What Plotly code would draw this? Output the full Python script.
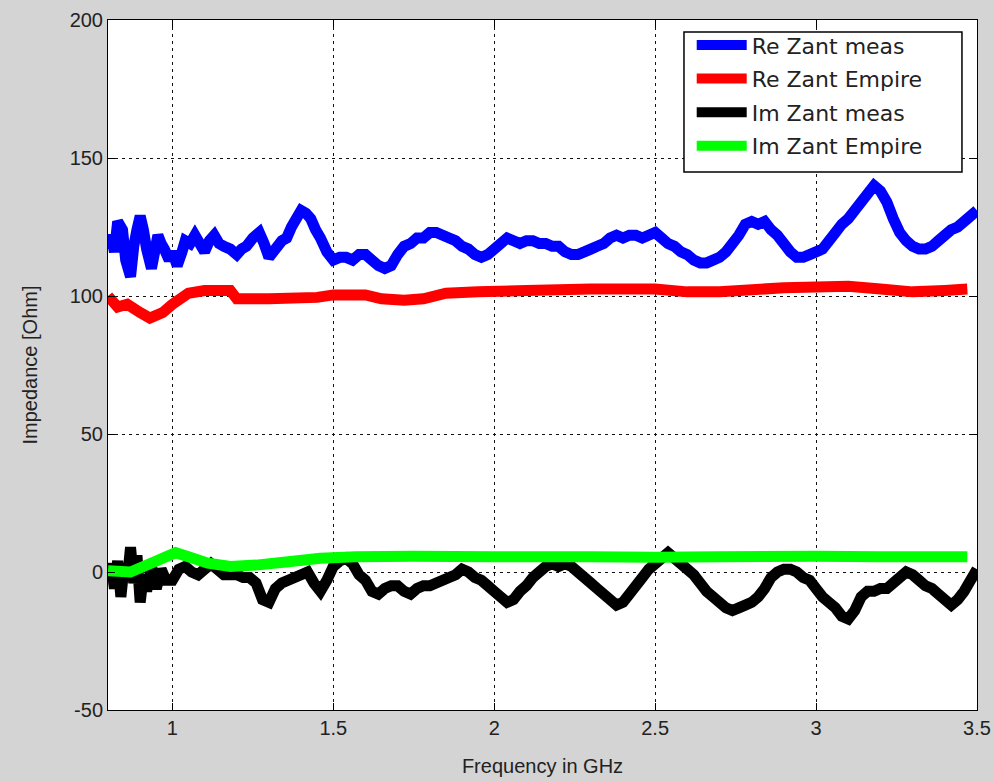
import plotly.graph_objects as go

# ---- data ----
re_meas_f = [0.80, 0.81, 0.82, 0.83, 0.845, 0.855, 0.87, 0.88, 0.89, 0.90, 0.91, 0.92, 0.935, 0.945,
             0.955, 0.965, 0.975, 0.99,
             1.00, 1.015, 1.03, 1.04, 1.055, 1.07, 1.085, 1.10, 1.115, 1.13, 1.145, 1.16, 1.18, 1.20,
             1.215, 1.23, 1.25, 1.27, 1.285, 1.30, 1.32, 1.34, 1.355, 1.37, 1.385, 1.40, 1.415, 1.43,
             1.445, 1.46, 1.48, 1.50, 1.52, 1.54, 1.56, 1.58, 1.60, 1.62, 1.64, 1.66, 1.68, 1.70,
             1.72, 1.74, 1.76, 1.78, 1.80, 1.82, 1.84, 1.86, 1.88, 1.90, 1.92, 1.94, 1.96, 1.98,
             2.00, 2.02, 2.04, 2.06, 2.08, 2.10, 2.12, 2.14, 2.16, 2.18, 2.20, 2.22, 2.24, 2.26,
             2.28, 2.30, 2.32, 2.34, 2.36, 2.38, 2.40, 2.42, 2.44, 2.46, 2.48, 2.50, 2.52, 2.54,
             2.56, 2.58, 2.60, 2.62, 2.64, 2.66, 2.68, 2.70, 2.72, 2.74, 2.76, 2.78, 2.80, 2.82,
             2.84, 2.86, 2.88, 2.90, 2.92, 2.94, 2.96, 2.98, 3.00, 3.02, 3.04, 3.06, 3.08, 3.10,
             3.12, 3.14, 3.16, 3.18, 3.20, 3.22, 3.24, 3.26, 3.28, 3.30, 3.32, 3.34, 3.36, 3.38,
             3.40, 3.42, 3.44, 3.46, 3.48, 3.50]
re_meas_z = [117, 122, 116, 127, 124, 113, 107, 118, 124, 129, 124, 117, 110, 116,
             122, 119, 117, 113,
             116, 111, 116, 120, 119, 122, 119, 116, 120, 122, 119, 118, 117, 115,
             117, 118, 121, 123, 119, 114, 117, 120, 121, 125, 128, 131, 130, 128,
             124, 121, 116, 113, 114, 114, 113, 115, 115, 113, 111, 110, 111, 115,
             118, 119, 121, 121, 123, 123, 122, 121, 120, 118, 117, 115, 114, 115,
             117, 119, 121, 120, 119, 120, 120, 119, 119, 118, 118, 116, 115, 115,
             116, 117, 118, 119, 121, 122, 121, 122, 122, 121, 122, 123, 121, 119,
             118, 116, 115, 113, 112, 112, 113, 114, 116, 119, 122, 126, 127, 126,
             127, 124, 122, 119, 116, 114, 114, 115, 116, 117, 120, 123, 126, 128,
             131, 134, 137, 140, 138, 134, 128, 123, 120, 118, 117, 117, 118, 120,
             122, 124, 125, 127, 129, 131]

re_emp_f = [0.80, 0.83, 0.86, 0.90, 0.93, 0.97, 1.00, 1.05, 1.10, 1.18, 1.20, 1.30, 1.45, 1.50,
            1.60, 1.65, 1.72, 1.78, 1.85, 1.95, 2.10, 2.30, 2.50, 2.60, 2.70, 2.90, 3.10, 3.20,
            3.30, 3.40, 3.47]
re_emp_z = [100, 96, 97, 94, 92, 94, 97, 101, 102, 102, 99, 99, 99.5, 100.4,
            100.4, 99, 98.5, 99, 101, 101.5, 102, 102.5, 102.5, 101.5, 101.5, 103, 103.5, 102.5,
            101.5, 102, 102.5]

im_meas_f = [0.80, 0.81, 0.82, 0.83, 0.84, 0.85, 0.86, 0.87, 0.88, 0.89, 0.90, 0.91, 0.92, 0.935,
             0.95, 0.965, 0.98,
             1.00, 1.02, 1.04, 1.06, 1.08, 1.10, 1.12, 1.14, 1.16, 1.18, 1.20, 1.22, 1.24, 1.26,
             1.28, 1.30, 1.32, 1.34, 1.36, 1.38, 1.40, 1.42, 1.44, 1.46, 1.48, 1.50, 1.52, 1.54,
             1.56, 1.58, 1.60, 1.62, 1.64, 1.66, 1.68, 1.70, 1.72, 1.74, 1.76, 1.78, 1.80, 1.82,
             1.84, 1.86, 1.88, 1.90, 1.92, 1.94, 1.96, 1.98, 2.00, 2.02, 2.04, 2.06, 2.08, 2.10,
             2.12, 2.14, 2.16, 2.18, 2.20, 2.22, 2.24, 2.26, 2.28, 2.30, 2.32, 2.34, 2.36, 2.38,
             2.40, 2.42, 2.44, 2.46, 2.48, 2.50, 2.52, 2.54, 2.56, 2.58, 2.60, 2.62, 2.64, 2.66,
             2.68, 2.70, 2.72, 2.74, 2.76, 2.78, 2.80, 2.82, 2.84, 2.86, 2.88, 2.90, 2.92, 2.94,
             2.96, 2.98, 3.00, 3.02, 3.04, 3.06, 3.08, 3.10, 3.12, 3.14, 3.16, 3.18, 3.20, 3.22,
             3.24, 3.26, 3.28, 3.30, 3.32, 3.34, 3.36, 3.38, 3.40, 3.42, 3.44, 3.46, 3.48, 3.50]
im_meas_z = [-3, 3, -6, 4, -9, 2, -3, 9, -4, 6, -11, -1, -7, 2,
             -6, 1, -3,
             -3, 1, 2, 0, -1, 1, 3, 1, -1, -1, -1, -2, -2, -4,
             -10, -11, -6, -4, -3, -2, -1, 0, -4, -7, -3, 2, 4, 5,
             3, -1, -3, -7, -8, -6, -5, -5, -7, -8, -6, -5, -5, -4,
             -3, -2, -1, 1, 0, -2, -3, -5, -7, -9, -11, -10, -7, -5,
             -2, 0, 2, 3, 2, 3, 2, 0, -2, -4, -6, -8, -10, -12,
             -11, -8, -5, -2, 1, 3, 5, 7, 5, 3, 1, -1, -4, -7,
             -9, -11, -13, -14, -13, -12, -11, -9, -6, -2, 0, 1, 1, 0,
             -2, -3, -6, -9, -11, -13, -16, -17, -14, -9, -7, -7, -6, -6,
             -4, -2, 0, -1, -3, -5, -6, -8, -10, -12, -10, -7, -3, 1]

im_emp_f = [0.80, 0.87, 0.95, 1.01, 1.05, 1.11, 1.18, 1.26, 1.36, 1.46, 1.57, 1.75, 2.00, 2.30,
            2.50, 2.70, 3.00, 3.20, 3.47]
im_emp_z = [0.5, 0, 4, 7, 5.5, 3.2, 2, 2.5, 3.7, 5, 5.5, 5.7, 5.5, 5.5,
            5.3, 5.5, 5.7, 5.5, 5.5]

x_ticks = [1, 1.5, 2, 2.5, 3, 3.5]
y_ticks = [-50, 0, 50, 100, 150, 200]

series = [
    ("Re Zant meas", re_meas_f, re_meas_z, "#0000ff"),
    ("Re Zant Empire", re_emp_f, re_emp_z, "#ff0000"),
    ("Im Zant meas", im_meas_f, im_meas_z, "#000000"),
    ("Im Zant Empire", im_emp_f, im_emp_z, "#00ff00"),
]

fig = go.Figure()
for i, (name, xs, ys, col) in enumerate(series):
    fig.add_trace(go.Scatter(x=xs, y=ys, name=name, mode="lines", legendgroup=f"g{i}",
                             line=dict(color=col, width=11, simplify=False)))

font = "Liberation Sans, Arial, sans-serif"
axis_common = dict(
    showline=True, linecolor="black", linewidth=1, mirror="ticks",
    ticks="inside", ticklen=7, tickcolor="black",
    showgrid=True, gridcolor="#111111", griddash="3px,4px", gridwidth=1,
    zeroline=False, tickfont=dict(family=font, size=20, color="#222222"),
    automargin=False,
)
fig.update_xaxes(range=[0.8, 3.5], tickvals=x_ticks, ticktext=[str(v) for v in x_ticks],
                 title=dict(text="Frequency in GHz", font=dict(family=font, size=20, color="#222222"),
                            standoff=20),
                 **axis_common)
fig.update_yaxes(range=[-50, 200], tickvals=y_ticks, ticktext=[str(v) for v in y_ticks],
                 title=dict(text="Impedance [Ohm]", font=dict(family=font, size=20, color="#222222"),
                            standoff=26),
                 **axis_common)

# legend frame (MATLAB style box)
fig.add_shape(type="rect", xref="paper", yref="paper",
              x0=0.6628, x1=0.9827, y0=0.7797, y1=0.9826,
              line=dict(color="black", width=1.5), fillcolor="white", layer="above")

fig.update_layout(
    width=994, height=781,
    margin=dict(l=108, r=17, t=20, b=71),
    paper_bgcolor="#d4d4d4", plot_bgcolor="white",
    showlegend=True,
    legend=dict(x=0.6717, y=0.994, xanchor="left", yanchor="top",
                bgcolor="rgba(0,0,0,0)", borderwidth=0,
                font=dict(family="DejaVu Sans, sans-serif", size=22, color="#222222"),
                itemwidth=50, tracegroupgap=2),
)

fig.write_html("out.html")
